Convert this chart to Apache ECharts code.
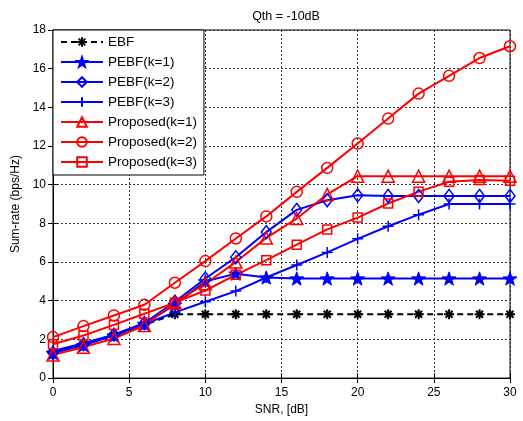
<!DOCTYPE html>
<html><head><meta charset="utf-8">
<script src="https://cdn.jsdelivr.net/npm/echarts@6/dist/echarts.min.js"></script>
<style>html,body{margin:0;padding:0;background:#fff}#c{width:523px;height:421px}</style>
</head><body><div id="c"></div>
<script>
const snr = [0,2,4,6,8,10,12,14,16,18,20,22,24,26,28,30];
const ebf = [1.35,1.75,2.2,2.75,3.3,3.3,3.3,3.3,3.3,3.3,3.3,3.3,3.3,3.3,3.3,3.3];
const pebf1 = [1.3,1.7,2.2,2.8,3.8,5.0,5.4,5.2,5.15,5.15,5.15,5.15,5.15,5.15,5.15,5.15];
const pebf2 = [1.3,1.75,2.25,2.85,3.95,5.15,6.25,7.55,8.7,9.2,9.45,9.42,9.42,9.42,9.42,9.42];
const pebf3 = [1.4,1.8,2.25,2.8,3.4,3.95,4.5,5.2,5.85,6.5,7.2,7.85,8.45,9.0,9.0,9.0];
const prop1 = [1.2,1.6,2.05,2.72,3.9,4.88,6.0,7.25,8.25,9.5,10.44,10.44,10.44,10.44,10.44,10.44];
const prop2 = [2.12,2.69,3.24,3.79,4.93,6.05,7.22,8.36,9.63,10.87,12.13,13.42,14.71,15.63,16.55,17.16];
const prop3 = [1.75,2.2,2.75,3.33,3.9,4.53,5.34,6.1,6.9,7.69,8.3,9.03,9.64,10.15,10.24,10.2];
const names = ['EBF','PEBF(k=1)','PEBF(k=2)','PEBF(k=3)','Proposed(k=1)','Proposed(k=2)','Proposed(k=3)'];

const STAR = 'path://M10,0 L12.35,6.76 L19.51,6.91 L13.80,11.24 L15.88,18.09 L10,14 L4.12,18.09 L6.20,11.24 L0.49,6.91 L7.65,6.76 Z';
const PLUS = 'path://M5,0 L5,10 M0,5 L10,5';
const AST = 'path://M5,0 L5,10 M0,5 L10,5 M1.5,1.5 L8.5,8.5 M8.5,1.5 L1.5,8.5';
const pair = ys => snr.map((x,i)=>[x,ys[i]]);
const FONT = 'Liberation Sans';

function mk(name, ys, color, symbol, size, fill, dashed, bw){
  return {
    name, type:'line', data: pair(ys), symbol, symbolSize: size, symbolKeepAspect: true,
    lineStyle:{color, width:2, type: dashed ? [6,4] : 'solid'},
    itemStyle:{color: fill, borderColor: color, borderWidth: bw},
    emphasis:{disabled:true}, animation:false, z: 3
  };
}
const series = [
  mk(names[0], ebf, '#000', AST, 10, '#000', true, 2),
  mk(names[1], pebf1, '#0000ff', STAR, 14, '#0000ff', false, 1),
  mk(names[2], pebf2, '#0000ff', 'diamond', [10,13], 'rgba(0,0,0,0)', false, 1.5),
  mk(names[3], pebf3, '#0000ff', PLUS, 11, 'rgba(0,0,0,0)', false, 1.5),
  mk(names[4], prop1, '#ff0000', 'triangle', 12, 'rgba(0,0,0,0)', false, 1.5),
  mk(names[5], prop2, '#ff0000', 'circle', 11, 'rgba(0,0,0,0)', false, 1.5),
  mk(names[6], prop3, '#ff0000', 'rect', 9, 'rgba(0,0,0,0)', false, 1.5)
];
const axisCommon = {
  axisLine:{show:true, lineStyle:{color:'#000', width:1}},
  axisTick:{show:true, inside:true, length:5, lineStyle:{color:'#000'}},
  splitLine:{show:true, lineStyle:{color:'#333', type:[2,2], width:1}},
  axisLabel:{color:'#000', fontFamily:FONT, fontSize:12, margin:9}
};
const chart = echarts.init(document.getElementById('c'), null, {renderer:'canvas'});
chart.setOption({
  backgroundColor:'#fff',
  animation:false,
  title:{text:'Qth = -10dB', left:281, top:5, textAlign:'center',
    textStyle:{fontFamily:FONT, fontSize:12.5, fontWeight:'normal', color:'#000'}},
  grid:{left:53, right:13, top:30, bottom:38, show:true, borderColor:'#000', borderWidth:1, backgroundColor:'#fff'},
  legend:{
    data:names, orient:'vertical', left:53, top:30,
    backgroundColor:'#fff', borderColor:'#000', borderWidth:1,
    padding:[5,7,6,7], itemWidth:42, itemHeight:12, itemGap:6,
    textStyle:{fontFamily:FONT, fontSize:13.5, color:'#000'}
  },
  xAxis:[
    Object.assign({type:'value', min:0, max:30, interval:5, name:'SNR, [dB]', nameLocation:'middle', nameGap:24,
      nameTextStyle:{fontFamily:FONT, fontSize:12, color:'#000'}}, axisCommon),
    {type:'value', position:'top', min:0, max:30, interval:5, axisLine:{show:true,lineStyle:{color:'#000'}},
      axisTick:{show:true, inside:true, length:5, lineStyle:{color:'#000'}}, axisLabel:{show:false}, splitLine:{show:false}}
  ],
  yAxis:[
    Object.assign({type:'value', min:0, max:18, interval:2, name:'Sum-rate (bps/Hz)', nameLocation:'middle', nameGap:30,
      nameTextStyle:{fontFamily:FONT, fontSize:12, color:'#000'}}, axisCommon, {axisLabel:{color:'#000', fontFamily:FONT, fontSize:12, margin:7}}),
    {type:'value', position:'right', min:0, max:18, interval:2, axisLine:{show:true,lineStyle:{color:'#000'}},
      axisTick:{show:true, inside:true, length:5, lineStyle:{color:'#000'}}, axisLabel:{show:false}, splitLine:{show:false}}
  ],
  series
});
</script></body></html>
